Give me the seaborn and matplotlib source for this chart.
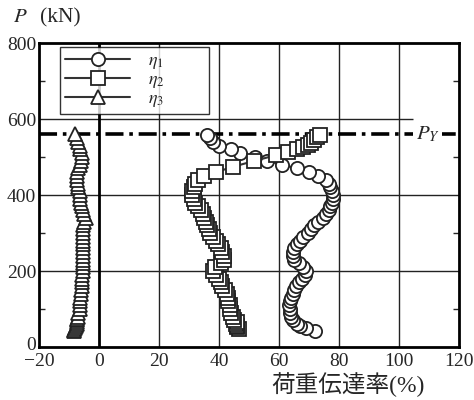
import numpy as np
import pandas as pd
import seaborn as sns
import matplotlib.pyplot as plt
import matplotlib.transforms as mtransforms

# load levels (kN) and transfer ratio (%)
p_eta1 = [42, 50, 55, 60, 70, 80, 90, 100, 110, 120, 130, 140, 150, 160, 170, 180,
          190, 200, 210, 220, 230, 240, 250, 260, 270, 280, 290, 300, 310, 320, 330,
          340, 350, 360, 370, 380, 390, 400, 410, 420, 430, 440, 450, 460, 470, 480,
          490, 500, 510, 520, 530, 540, 550, 558]
eta1 = [72, 69, 67, 66, 64.5, 64, 63.5, 63.5, 63.3, 63.5, 64, 64.5, 65, 65.5, 66.5,
        67.5, 68.5, 69, 68, 66.5, 65, 64.5, 64.5, 65, 66, 67, 68, 69.5, 70.5, 71.5,
        73, 74.5, 75.5, 76.5, 77, 77.5, 78, 78, 77.5, 77, 76.5, 75.5, 73, 70, 66, 61,
        56, 52, 47, 44, 40, 38, 37, 36]

p_eta2 = [48, 52, 56, 60, 65, 70, 80, 90, 100, 110, 120, 130, 140, 150, 160, 170,
          180, 190, 200, 210, 220, 230, 240, 250, 260, 270, 280, 290, 300, 310, 320,
          330, 340, 350, 360, 370, 380, 390, 400, 410, 420, 430, 440, 450, 460, 474,
          489, 505, 513, 520, 526, 532, 538, 545, 552, 558]
eta2 = [46.5, 46, 46, 45.5, 46, 45, 44.5, 44, 43.5, 43.5, 43, 43, 42.5, 42, 41, 40.5,
        40, 39, 38, 38.5, 40.5, 41.5, 41.5, 41, 40.5, 39.5, 39, 38, 37, 36.5, 36,
        35.5, 35, 34.5, 34, 33, 32, 31.5, 31, 31, 31.5, 32, 33, 35, 39, 44.5,
        51.5, 59, 63, 66, 68, 69.5, 70.5, 71.5, 72.5, 73.5]

p_eta3 = [42, 46, 50, 55, 60, 65, 70, 75, 80, 90, 100, 110, 120, 130, 140, 150, 160,
          170, 180, 190, 200, 210, 220, 230, 240, 250, 260, 270, 280, 290, 300, 310,
          320, 330, 340, 350, 360, 370, 380, 390, 400, 410, 420, 430, 440, 450, 460,
          470, 480, 490, 500, 510, 520, 530, 540, 550, 560]
eta3 = [-8.5, -8.3, -8, -7.8, -7.5, -7.5, -7.5, -7.2, -7, -7, -6.5, -6.5, -6.3, -6.2,
        -6, -6, -5.8, -5.8, -5.6, -5.6, -5.5, -5.5, -5.5, -5.5, -5.5, -5.5, -5.5,
        -5.5, -5.5, -5.5, -5.5, -5.5, -5.3, -5, -4.5, -5, -5.3, -5.8, -6, -6.3, -6.5,
        -6.5, -7, -7, -7.3, -7.3, -7.3, -7, -6.5, -6, -5.7, -5.8, -6.3, -6.5, -7,
        -7.5, -8]

p_yield = 560

df = pd.concat([
    pd.DataFrame({"P": p_eta1, "eta": eta1, "series": "eta1"}),
    pd.DataFrame({"P": p_eta2, "eta": eta2, "series": "eta2"}),
    pd.DataFrame({"P": p_eta3, "eta": eta3, "series": "eta3"}),
])

sns.set_style("white")
plt.rcParams["font.family"] = ["Liberation Serif", "Noto Sans CJK JP"]
plt.rcParams["mathtext.fontset"] = "stix"

fig = plt.figure(figsize=(4.74, 4.0), dpi=100)
ax = fig.add_axes([39 / 474, 53 / 400, 420 / 474, 304 / 400])

# grid
for gx in [20, 40, 60, 80, 100]:
    ax.axvline(gx, color="#222222", lw=1.0, zorder=1)
for gy in [200, 400]:
    ax.axhline(gy, color="#222222", lw=1.0, zorder=1)
ax.hlines(600, -20, 104.5, color="#222222", lw=1.0, zorder=1)
ax.axvline(0, color="black", lw=2.0, zorder=1)

ax.axhline(p_yield, color="black", lw=2.6, ls=(0, (5, 1.6, 1, 1.6)), zorder=2)
ax.text(105.5, p_yield, "$P_Y$", fontsize=15, va="center", ha="left",
        bbox=dict(facecolor="white", edgecolor="none", pad=1.5), zorder=3)

styles = {"eta1": ("o", r"$\eta_1$"), "eta2": ("s", r"$\eta_2$"), "eta3": ("^", r"$\eta_3$")}
for key, (mk, lab) in styles.items():
    d = df[df["series"] == key]
    sns.lineplot(data=d, x="eta", y="P", sort=False, estimator=None, ax=ax,
                 color="#333333", lw=1.5, marker=mk, markersize=9.5,
                 markerfacecolor="white", markeredgecolor="#222222",
                 markeredgewidth=1.3, label=lab, zorder=4)

ax.set_xlim(-20, 120)
ax.set_ylim(0, 800)
ax.set_xticks([-20, 0, 20, 40, 60, 80, 100, 120])
ax.set_xticklabels(["\u221220", "0", "20", "40", "60", "80", "100", "120"])
ax.set_yticks([0, 200, 400, 600, 800])
ax.set_yticks([100, 300, 500, 700], minor=True)
ax.tick_params(axis="y", which="both", direction="in", length=4, width=1,
               right=True, left=True, labelsize=14, pad=2)
ax.tick_params(axis="y", which="major", length=0)
ax.tick_params(axis="x", length=0, labelsize=14, pad=4)
for s in ax.spines.values():
    s.set_linewidth(2.0)
    s.set_color("black")

# lift the "0" label a little, as in the reference it sits just above "-20"
ylabels = ax.get_yticklabels()
ylabels[0].set_transform(ylabels[0].get_transform() +
                         mtransforms.ScaledTranslation(0, 4 / 100, fig.dpi_scale_trans))

ax.set_xlabel("")
ax.set_ylabel("")
fig.text(13 / 474, 1 - 18 / 400, "$P$", fontsize=15, va="center", ha="left")
fig.text(40 / 474, 1 - 18 / 400, "(kN)", fontsize=15.5, va="center", ha="left")
fig.text(425 / 474, 1 - 385 / 400, "荷重伝達率(%)", fontsize=17, va="center", ha="right")

leg = ax.legend(loc="upper left", bbox_to_anchor=(0.05, 0.5, 0.355, 0.488),
                mode="expand", frameon=True, fancybox=False, edgecolor="black",
                fontsize=13, handlelength=3.6, borderpad=0.3, labelspacing=0.0,
                handletextpad=1.0, borderaxespad=0)
leg.get_frame().set_linewidth(1.0)
leg.set_zorder(6)

fig.savefig("out.png", dpi=100)
